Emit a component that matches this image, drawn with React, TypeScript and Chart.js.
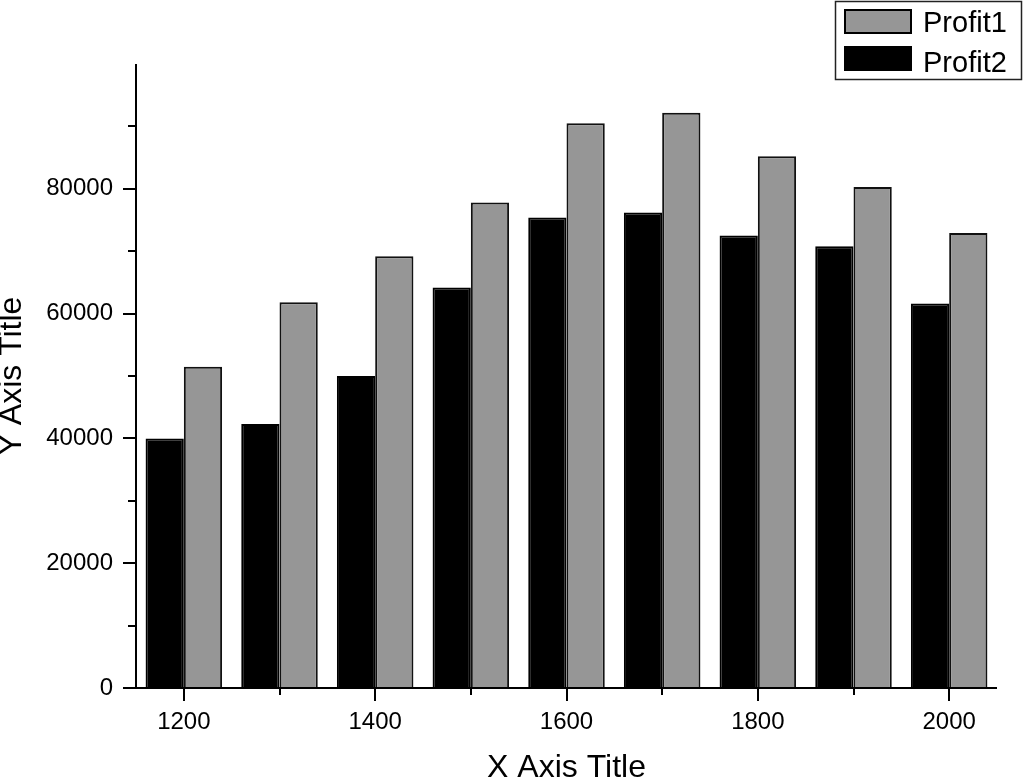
import React, { useEffect, useRef } from 'react';
import { Chart, registerables } from 'chart.js';

Chart.register(...registerables);

const years = [1200, 1300, 1400, 1500, 1600, 1700, 1800, 1900, 2000];
const profit1 = [51500, 61800, 69200, 77800, 90500, 92200, 85200, 80300, 72900];
const profit2 = [40000, 42300, 50000, 64200, 75400, 76200, 72500, 70800, 61600];
const seriesNames = ['Profit1', 'Profit2'];
const seriesColors = ['#969696', '#000000'];
const xMajorTicks = [1200, 1400, 1600, 1800, 2000];
const xMinorTicks = [1300, 1500, 1700, 1900];
const yMajorTicks = [0, 20000, 40000, 60000, 80000];
const yMinorTicks = [10000, 30000, 50000, 70000, 90000];
const xTitle = 'X Axis Title';
const yTitle = 'Y Axis Title';

const FONT = '"Liberation Sans", Arial, Helvetica, sans-serif';
const W = 1024;
const H = 778;

const axesPlugin = {
  id: 'originAxes',
  afterDatasetsDraw(chart: any) {
    const { ctx, chartArea: a, scales } = chart;
    const x = scales.x;
    const y = scales.y;
    ctx.save();
    ctx.strokeStyle = '#000';
    ctx.lineWidth = 2;
    ctx.lineCap = 'butt';
    ctx.beginPath();
    ctx.moveTo(a.left, a.top);
    ctx.lineTo(a.left, a.bottom + 1);
    ctx.moveTo(a.left - 1, a.bottom);
    ctx.lineTo(a.right, a.bottom);
    yMajorTicks.forEach((v) => {
      const p = Math.round(y.getPixelForValue(v));
      ctx.moveTo(a.left - 13, p);
      ctx.lineTo(a.left, p);
    });
    yMinorTicks.forEach((v) => {
      const p = Math.round(y.getPixelForValue(v));
      ctx.moveTo(a.left - 8, p);
      ctx.lineTo(a.left, p);
    });
    xMajorTicks.forEach((v) => {
      const p = Math.round(x.getPixelForValue(v));
      ctx.moveTo(p, a.bottom);
      ctx.lineTo(p, a.bottom + 13);
    });
    xMinorTicks.forEach((v) => {
      const p = Math.round(x.getPixelForValue(v));
      ctx.moveTo(p, a.bottom);
      ctx.lineTo(p, a.bottom + 7);
    });
    ctx.stroke();
    ctx.restore();
  },
};

const boxLegendPlugin = {
  id: 'boxLegend',
  afterDraw(chart: any) {
    const { ctx } = chart;
    ctx.save();
    ctx.strokeStyle = '#222';
    ctx.lineWidth = 1.5;
    ctx.strokeRect(835.5, 1.5, 186, 78);
    ctx.font = `29px ${FONT}`;
    ctx.textBaseline = 'alphabetic';
    ctx.textAlign = 'left';
    const rows = [
      { top: 9, base: 32 },
      { top: 46, base: 72 },
    ];
    seriesNames.forEach((name, i) => {
      const r = rows[i];
      ctx.fillStyle = seriesColors[i];
      ctx.fillRect(844, r.top, 68, 25);
      ctx.strokeStyle = '#000';
      ctx.lineWidth = 2;
      ctx.strokeRect(845, r.top + 1, 66, 23);
      ctx.fillStyle = '#000';
      ctx.fillText(name, 923, r.base);
    });
    ctx.restore();
  },
};

export default function App() {
  const canvasRef = useRef<HTMLCanvasElement | null>(null);

  useEffect(() => {
    const canvas = canvasRef.current;
    if (!canvas) return;
    const chart = new Chart(canvas, {
      type: 'bar',
      data: {
        datasets: [
          {
            label: seriesNames[1],
            data: years.map((x, i) => ({ x, y: profit2[i] })),
            backgroundColor: seriesColors[1],
            borderColor: '#000',
            borderWidth: 2,
            barPercentage: 1,
            categoryPercentage: 0.8,
          },
          {
            label: seriesNames[0],
            data: years.map((x, i) => ({ x, y: profit1[i] })),
            backgroundColor: seriesColors[0],
            borderColor: '#111',
            borderWidth: 2,
            barPercentage: 1,
            categoryPercentage: 0.8,
          },
        ],
      },
      options: {
        animation: false,
        responsive: false,
        devicePixelRatio: 1,
        layout: { padding: { top: 64, right: 27, left: 0, bottom: 0 } },
        plugins: {
          legend: { display: false },
          tooltip: { enabled: false },
        },
        scales: {
          x: {
            type: 'linear',
            min: 1150,
            max: 2050,
            offset: false,
            grid: { display: false, drawTicks: false, offset: false },
            border: { display: false },
            afterBuildTicks: (axis: any) => {
              axis.ticks = xMajorTicks.map((v) => ({ value: v }));
            },
            afterFit: (axis: any) => {
              axis.height = 90;
            },
            ticks: {
              color: '#000',
              padding: 20,
              maxRotation: 0,
              autoSkip: false,
              font: { family: FONT, size: 24 },
              callback: (v: any) => String(v),
            },
            title: {
              display: true,
              text: xTitle,
              color: '#000',
              font: { family: FONT, size: 32, lineHeight: 1 },
              padding: { top: 0, bottom: -6 },
            },
          },
          y: {
            type: 'linear',
            min: 0,
            max: 100000,
            grid: { display: false, drawTicks: false },
            border: { display: false },
            afterBuildTicks: (axis: any) => {
              axis.ticks = yMajorTicks.map((v) => ({ value: v }));
            },
            afterFit: (axis: any) => {
              axis.width = 136;
            },
            ticks: {
              color: '#000',
              padding: 23,
              autoSkip: false,
              font: { family: FONT, size: 24 },
              callback: (v: any) => String(v),
            },
            title: {
              display: true,
              text: yTitle,
              color: '#000',
              font: { family: FONT, size: 32, lineHeight: 1 },
              padding: { top: -4, bottom: 0 },
            },
          },
        },
      },
      plugins: [axesPlugin, boxLegendPlugin],
    } as any);
    return () => chart.destroy();
  }, []);

  return (
    <div style={{ position: 'fixed', left: 0, top: 0, width: W, height: H, overflow: 'hidden', background: '#fff' }}>
      <canvas ref={canvasRef} width={W} height={H} style={{ display: 'block', width: W, height: H }} />
    </div>
  );
}
